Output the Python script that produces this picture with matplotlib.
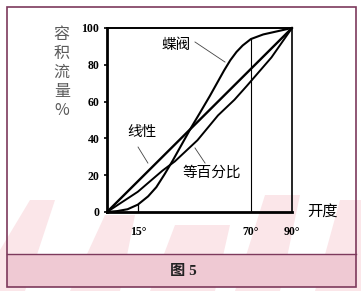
import matplotlib.pyplot as plt
import matplotlib.patches as mpatches
import numpy as np

# valve characteristic curves, opening in degrees vs volume flow %
linear_x = [0, 90]
linear_y = [0, 100]

eqpct_x = [0, 15, 27, 33, 44, 54, 62, 68, 80, 90]
eqpct_y = [0, 11, 22.5, 27.5, 39, 52.5, 61, 68.5, 84, 100]

butterfly_x = [0, 5, 10, 15, 20, 24, 28, 32, 37, 41, 45, 50, 54, 57, 60, 63, 66, 70, 76, 84, 90]
butterfly_y = [0, 0.5, 1.5, 4, 8.5, 13.5, 20.5, 28, 38, 46, 53.5, 63, 71, 77, 82.5, 87, 90.5, 94, 96.5, 98.5, 100]

yticks = [0, 20, 40, 60, 80, 100]
xticks = [15, 70, 90]
xtick_labels = ["15°", "70°", "90°"]

W, H = 361, 291
fig = plt.figure(figsize=(W / 100, H / 100), dpi=100)
fig.patch.set_facecolor("white")

maroon = "#7d3a5c"
# faint watermark shapes
wm = [
    [(0, 250), (30, 200), (55, 200), (25, 291), (0, 291)],
    [(70, 291), (105, 215), (135, 215), (120, 291)],
    [(150, 291), (175, 225), (230, 225), (215, 291)],
    [(235, 291), (265, 195), (300, 195), (280, 291)],
    [(315, 291), (340, 200), (361, 200), (361, 291)],
]
for poly in wm:
    pts = [(x / W, 1 - y / H) for x, y in poly]
    fig.patches.append(mpatches.Polygon(pts, closed=True, transform=fig.transFigure,
                                        facecolor="#fbe6e9", edgecolor="none", zorder=0))

# caption band and frame
fig.patches.append(mpatches.Rectangle((7 / W, 1 - 287 / H), 349 / W, 33 / H, transform=fig.transFigure,
                                      facecolor="#efc9d3", edgecolor="none", zorder=1))
fig.patches.append(mpatches.Rectangle((7 / W, 1 - 287 / H), 349 / W, 280 / H, transform=fig.transFigure,
                                      facecolor="none", edgecolor=maroon, lw=1.2, zorder=2))
fig.lines.append(plt.Line2D([7 / W, 356 / W], [1 - 254 / H, 1 - 254 / H], transform=fig.transFigure,
                            color=maroon, lw=1.0, zorder=2))
fig.text(183 / W, 1 - 271 / H, "图 5", ha="center", va="center", fontsize=11, fontweight="bold",
         family=["Liberation Serif", "Noto Sans CJK SC"], color="#222222", zorder=3)

ax = fig.add_axes([107 / W, 1 - 212 / H, 185 / W, 184 / H])
ax.set_zorder(5)
ax.patch.set_alpha(0)
ax.set_xlim(0, 90)
ax.set_ylim(0, 100)

ax.plot(linear_x, linear_y, color="black", lw=1.7, solid_capstyle="round", clip_on=False)
ax.plot(eqpct_x, eqpct_y, color="black", lw=1.4, clip_on=False)
ax.plot(butterfly_x, butterfly_y, color="black", lw=1.5, clip_on=False)

# frame lines and guide verticals
ax.plot([0, 90], [100, 100], color="black", lw=1.4, clip_on=False)
ax.plot([90, 90], [0, 100], color="black", lw=1.2, clip_on=False)
ax.plot([70, 70], [0, np.interp(70, butterfly_x, butterfly_y)], color="black", lw=0.8)
ax.plot([15, 15], [0, np.interp(15, butterfly_x, butterfly_y)], color="black", lw=0.9)

for s in ["top", "right"]:
    ax.spines[s].set_visible(False)
ax.spines["left"].set_linewidth(2.0)
ax.spines["bottom"].set_linewidth(2.0)
ax.spines["bottom"].set_bounds(0, 90)

ax.set_yticks(yticks)
ax.set_yticklabels([str(v) for v in yticks], fontsize=8.5, fontweight="bold", family="Liberation Serif")
ax.tick_params(axis="y", length=2.5, width=1.2, pad=3)
ax.set_xticks(xticks)
ax.set_xticklabels(xtick_labels, fontsize=8.5, fontweight="bold", family="Liberation Serif")
ax.tick_params(axis="x", length=0, pad=10)

cjk = ["Noto Sans CJK SC", "DejaVu Sans"]
ax.text(-22, 76, "容\n积\n流\n量\n%", ha="center", va="center", fontsize=11.5, family=cjk,
        color="#5a5a5a", linespacing=1.15, clip_on=False)
ax.text(105, 0.5, "开度", ha="center", va="center", fontsize=11, family=cjk, clip_on=False)

ax.text(33.6, 90.8, "蝶阀", ha="center", va="center", fontsize=10.5, family=cjk)
ax.plot([42.8, 57.4], [92.4, 81.5], color="#444444", lw=0.6)
ax.text(17, 43.5, "线性", ha="center", va="center", fontsize=10.5, family=cjk)
ax.plot([15.1, 19.9], [35.3, 26.6], color="#444444", lw=0.6)
ax.text(51, 21.5, "等百分比", ha="center", va="center", fontsize=10.5, family=cjk)
ax.plot([42.8, 47.7], [34.8, 26.6], color="#444444", lw=0.6)

fig.savefig("out.png", dpi=100, facecolor="white")
